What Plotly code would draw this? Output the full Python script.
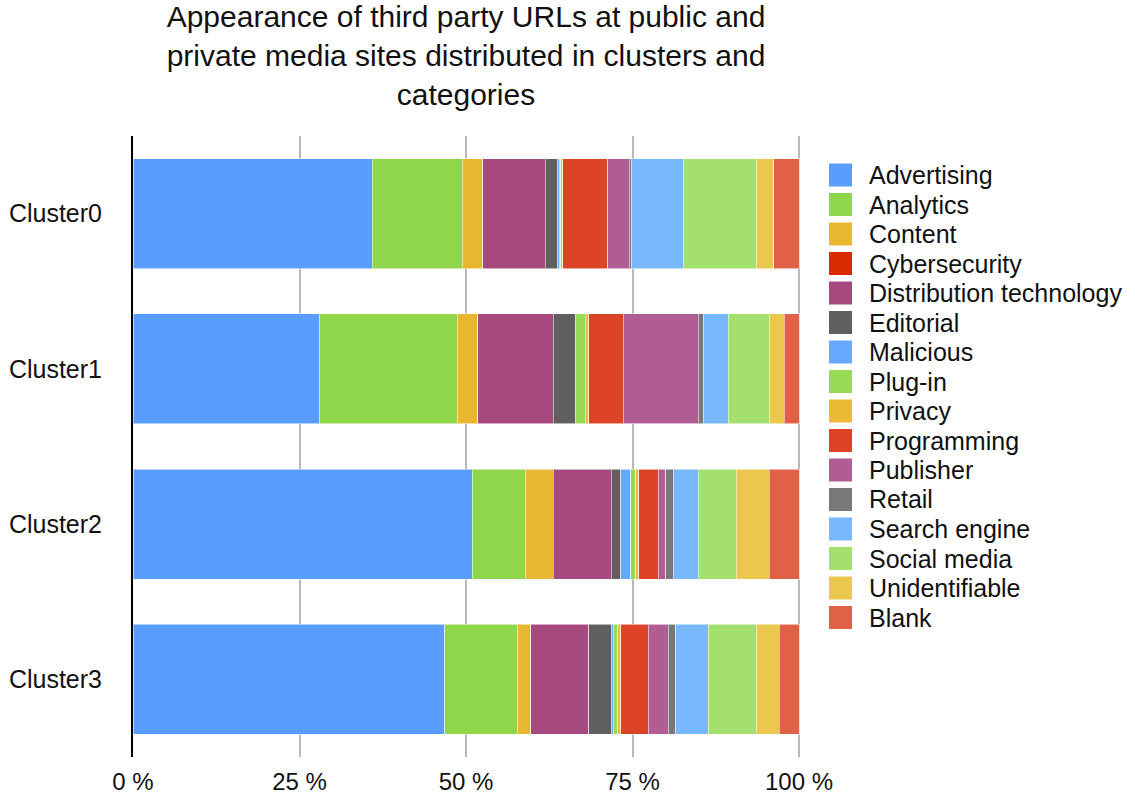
import plotly.graph_objects as go

# Clusters (rows) and the percentage each category takes within a cluster
clusters = ["Cluster0", "Cluster1", "Cluster2", "Cluster3"]

advertising = [35.9, 28.0, 50.9, 46.8]
analytics = [13.5, 20.7, 8.0, 10.9]
content = [3.1, 3.1, 4.2, 2.0]
cybersecurity = [0.0, 0.0, 0.0, 0.0]
distribution_technology = [9.4, 11.3, 8.7, 8.7]
editorial = [1.8, 3.3, 1.4, 3.4]
malicious = [0.3, 0.0, 1.5, 0.3]
plug_in = [0.2, 1.5, 0.8, 0.7]
privacy = [0.3, 0.5, 0.4, 0.4]
programming = [6.8, 5.2, 3.0, 4.2]
publisher = [3.2, 11.3, 1.1, 3.0]
retail = [0.3, 0.7, 1.1, 1.1]
search_engine = [7.8, 3.8, 3.8, 4.9]
social_media = [11.0, 6.1, 5.7, 7.2]
unidentifiable = [2.6, 2.3, 4.9, 3.4]
blank = [3.8, 2.2, 4.5, 3.0]

category_names = [
    "Advertising", "Analytics", "Content", "Cybersecurity",
    "Distribution technology", "Editorial", "Malicious", "Plug-in",
    "Privacy", "Programming", "Publisher", "Retail", "Search engine",
    "Social media", "Unidentifiable", "Blank",
]
category_values = [
    advertising, analytics, content, cybersecurity,
    distribution_technology, editorial, malicious, plug_in,
    privacy, programming, publisher, retail, search_engine,
    social_media, unidentifiable, blank,
]

tick_values = [0, 25, 50, 75, 100]
tick_labels = ["0 %", "25 %", "50 %", "75 %", "100 %"]

# Styling
colors = [
    "#599EFF", "#8FD64A", "#E8B630", "#D92C05",
    "#A5497F", "#5F5F5F", "#66AAFF", "#98DA55",
    "#EAB936", "#DD4427", "#AF5D92", "#787878", "#78B8FF",
    "#A4E06E", "#EBC74E", "#E06147",
]
FONT = "Liberation Sans, Arial, Helvetica, sans-serif"
W, H = 1135, 797
X_MAX = 100.3
M_L, M_T, M_B = 133, 136, 40
M_R = W - M_L - round(666 * X_MAX / 100)
plot_w = W - M_L - M_R
plot_h = H - M_T - M_B

fig = go.Figure()
for name, vals, col in zip(category_names, category_values, colors):
    fig.add_trace(go.Bar(
        y=clusters, x=vals, name=name, orientation="h",
        marker=dict(color=col, line=dict(color="rgba(255,255,255,0.55)", width=1)),
        showlegend=False,
    ))


def px_to_paper_x(px):
    return (px - M_L) / plot_w


def px_to_paper_y(py):
    return (H - M_B - py) / plot_h


# Hand-built legend: large colour squares with labels
shapes = []
annotations = []
row0, row_step = 175, 29.5
for i, (name, col) in enumerate(zip(category_names, colors)):
    cy = row0 + i * row_step
    shapes.append(dict(
        type="rect", xref="paper", yref="paper",
        x0=px_to_paper_x(829), x1=px_to_paper_x(852),
        y0=px_to_paper_y(cy + 11.5), y1=px_to_paper_y(cy - 11.5),
        fillcolor=col, line=dict(width=0),
    ))
    annotations.append(dict(
        text=name, xref="paper", yref="paper",
        x=px_to_paper_x(867), y=px_to_paper_y(cy),
        xanchor="left", yanchor="middle", showarrow=False,
        font=dict(family=FONT, size=25, color="#111111"),
    ))

fig.update_layout(
    barmode="stack",
    bargap=0.29,
    width=W, height=H,
    margin=dict(l=M_L, r=M_R, t=M_T, b=M_B),
    paper_bgcolor="white", plot_bgcolor="white",
    title=dict(
        text="Appearance of third party URLs at public and<br>"
             "private media sites distributed in clusters and<br>categories",
        x=px_to_paper_x(466), xref="paper", xanchor="center",
        y=0.966, yref="container", yanchor="top",
        font=dict(family=FONT, size=30, color="#111111"),
    ),
    xaxis=dict(
        range=[0, X_MAX], tickvals=tick_values, ticktext=tick_labels,
        showgrid=True, gridcolor="#B8B8B8", gridwidth=2,
        zeroline=False, showline=False, automargin=False,
        tickfont=dict(family=FONT, size=24, color="#111111"),
        ticklabelstandoff=8,
    ),
    yaxis=dict(
        autorange="reversed", showgrid=False, zeroline=False,
        showline=True, linecolor="black", linewidth=2, automargin=False,
        tickfont=dict(family=FONT, size=25, color="#111111"),
        ticklabelstandoff=24,
    ),
    shapes=shapes,
    annotations=annotations,
)

fig.write_html("out.html")
